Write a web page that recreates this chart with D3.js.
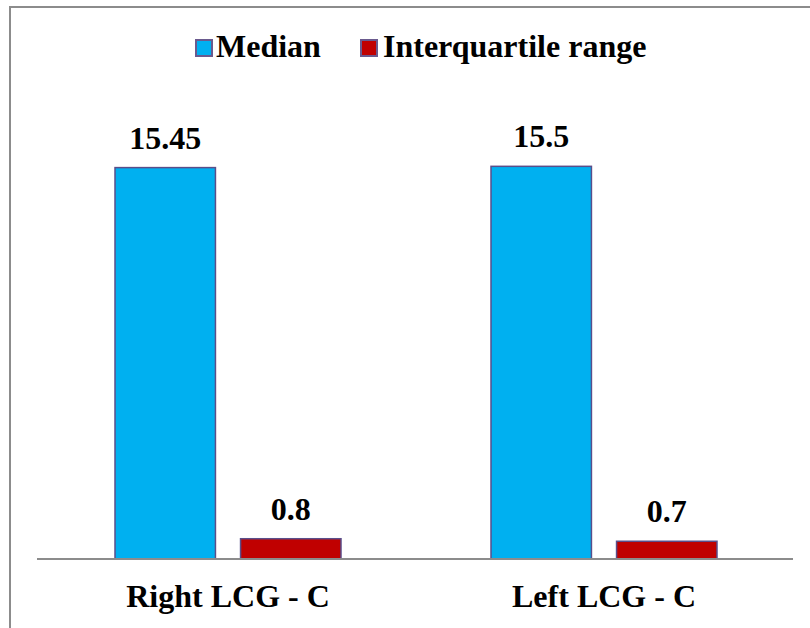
<!DOCTYPE html>
<html>
<head>
<meta charset="utf-8">
<script src="https://cdn.jsdelivr.net/npm/d3@7"></script>
<style>
  html, body { margin: 0; padding: 0; background: #fff; }
  svg { display: block; }
</style>
</head>
<body>
<svg id="chart" width="810" height="628"></svg>
<script>
// Measurement groups and series
const categories = ["Right LCG - C", "Left LCG - C"];
const seriesNames = ["Median", "Interquartile range"];
const medianValues = [15.45, 15.5];
const iqrValues = [0.8, 0.7];
const valueLabels = [["15.45", "0.8"], ["15.5", "0.7"]];
const seriesColors = ["#00B0F0", "#C00000"];

const FONT = "'Liberation Serif'";

const rows = categories.map((c, i) => ({
  category: c,
  values: [
    { series: seriesNames[0], value: medianValues[i], label: valueLabels[i][0] },
    { series: seriesNames[1], value: iqrValues[i], label: valueLabels[i][1] }
  ]
}));

const svg = d3.select("#chart");
const W = 810, H = 628;

// Outer frame (runs off the right and bottom edges)
svg.append("rect")
  .attr("x", 10).attr("y", 7)
  .attr("width", W + 10).attr("height", H + 10)
  .attr("fill", "#fff")
  .attr("stroke", "#8c8c8c").attr("stroke-width", 2);

const plot = { left: 40, right: 792, top: 103, bottom: 559 };

const x0 = d3.scaleBand().domain(categories).range([plot.left, plot.right]).padding(0);
const groupInset = 75;
const x1 = d3.scaleBand().domain(seriesNames)
  .range([0, x0.bandwidth() - 2 * groupInset])
  .paddingInner(0.2).paddingOuter(0);
const y = d3.scaleLinear().domain([0, 18]).range([plot.bottom, plot.top]);
const color = d3.scaleOrdinal().domain(seriesNames).range(seriesColors);

function boldText(sel, size) {
  sel.attr("font-family", null)
    .style("font-family", FONT)
    .style("font-weight", "bold")
    .style("font-size", size + "px")
    .attr("fill", "#000");
}

// Bars
const groups = svg.append("g").selectAll("g")
  .data(rows).join("g")
  .attr("transform", d => `translate(${x0(d.category) + groupInset},0)`);

groups.selectAll("rect")
  .data(d => d.values).join("rect")
  .attr("x", d => x1(d.series))
  .attr("y", d => y(d.value))
  .attr("width", x1.bandwidth())
  .attr("height", d => y(0) - y(d.value))
  .attr("fill", d => color(d.series))
  .attr("stroke", "#5a4e8a").attr("stroke-width", 1.5);

// Value labels
groups.selectAll("text.val")
  .data(d => d.values).join("text")
  .attr("class", "val")
  .attr("x", d => x1(d.series) + x1.bandwidth() / 2)
  .attr("y", d => y(d.value) - 19)
  .attr("text-anchor", "middle")
  .call(boldText, 32)
  .text(d => d.label);

// Category axis
const xAxis = svg.append("g")
  .attr("transform", `translate(0,${plot.bottom})`)
  .call(d3.axisBottom(x0).tickSize(0).tickPadding(0))
  .attr("font-family", null).attr("font-size", null);
xAxis.select(".domain")
  .attr("d", `M${plot.left - 3},0H${plot.right + 1}`)
  .attr("stroke", "#8c8c8c").attr("stroke-width", 2);
xAxis.selectAll(".tick text")
  .attr("y", 48).attr("dy", 0)
  .call(boldText, 32);

// Legend
const legendItems = [
  { name: seriesNames[0], box: 196, text: 216 },
  { name: seriesNames[1], box: 361, text: 383 }
];
const legend = svg.append("g");
legend.selectAll("rect")
  .data(legendItems).join("rect")
  .attr("x", d => d.box).attr("y", 40)
  .attr("width", 16).attr("height", 16)
  .attr("fill", d => color(d.name))
  .attr("stroke", "#6a5a8e").attr("stroke-width", 2);
legend.selectAll("text")
  .data(legendItems).join("text")
  .attr("x", d => d.text).attr("y", 57)
  .call(boldText, 32)
  .text(d => d.name);
</script>
</body>
</html>
